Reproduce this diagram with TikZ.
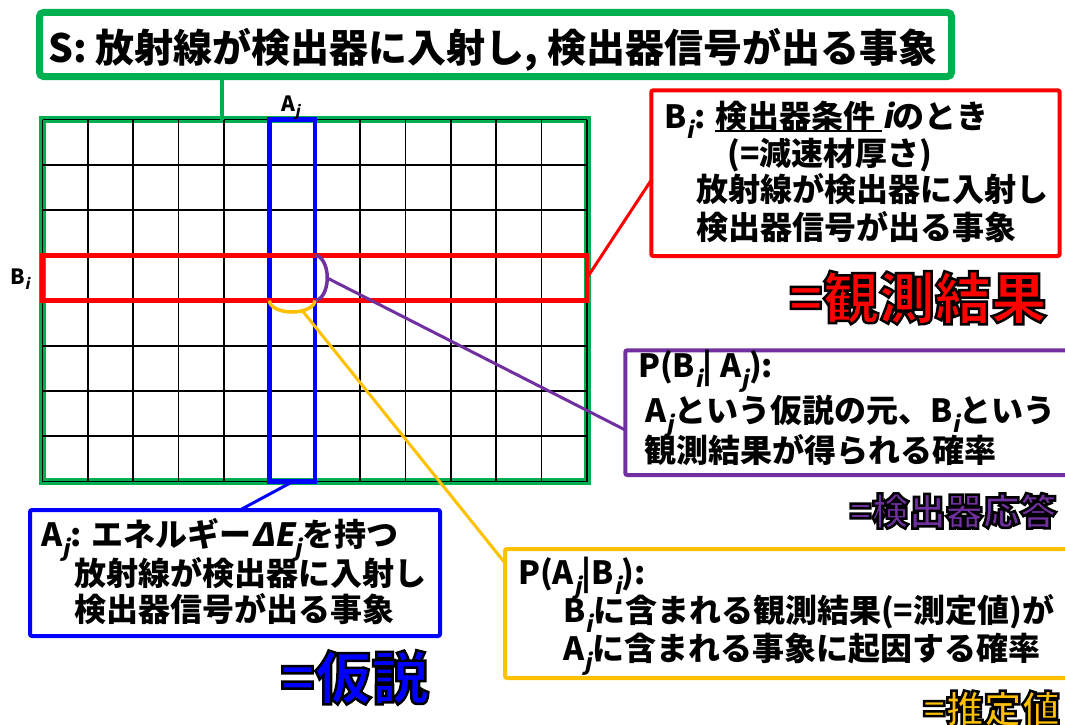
\documentclass[tikz,border=0pt]{standalone}
\usepackage{fontspec}
\setmainfont{Noto Sans CJK JP}
\newfontfamily\jpff{Noto Sans CJK JP}
\newfontfamily\jpit{Noto Sans CJK JP}[FakeSlant=0.2]
\definecolor{ogreen}{HTML}{00B050}
\definecolor{opurple}{HTML}{7030A0}
\definecolor{ogold}{HTML}{FFC000}
\definecolor{oblue}{HTML}{0000FF}
\definecolor{ored}{HTML}{FF0000}
\newcommand\jpt[1]{{\jpff\bfseries #1}}
\newcommand\itx[1]{{\jpit\bfseries #1}}
\newcommand\subi{\textsubscript{\jpit\bfseries i}}
\newcommand\subj{\textsubscript{\jpit\bfseries j}}
\newcommand\ulj[1]{\setbox0=\hbox{#1}\rlap{\rule[-3.5pt]{\wd0}{1.6pt}}\box0}
\newcommand\outl[1]{\special{pdf:literal direct 2 Tr 0 0 0 RG 2.5 w}#1\special{pdf:literal direct 0 Tr}}
\begin{document}
\begin{tikzpicture}[x=1pt,y=-1pt,
  txt/.style={anchor=base west, inner sep=0pt, font=\fontsize{32}{38}\selectfont\jpff\bfseries},
  lbl/.style={anchor=base east, inner sep=0pt},
  frame/.style={draw, inner sep=0pt, outer sep=0pt, anchor=north west, rounded corners=2pt},
  gridline/.style={line width=1.6pt, black},
  conn/.style={line width=3pt}]
\useasboundingbox (0,0) rectangle (1065,725);
\fill[white] (0,0) rectangle (1065,725);

% top S box
\node[frame, draw=ogreen, line width=7pt, rounded corners=4pt, minimum width=912pt, minimum height=64pt] (sbox) at (39.5,12.5) {};
\node[txt, font=\fontsize{39}{44}\selectfont\jpff\bfseries] (stext) at (48,63) {S: \jpt{放射線が検出器に入射し}, \jpt{検出器信号が出る事象}};

% grid frame
\node[frame, draw=ogreen, line width=7pt, rounded corners=0pt, minimum width=544.5pt, minimum height=362pt] (grid) at (42.5,119.5) {};
\foreach \i in {0,...,12} \draw[gridline] (42.5+45.375*\i,119.5) -- (42.5+45.375*\i,481.5);
\foreach \j in {0,...,8} \draw[gridline] (42.5,119.5+45.25*\j) -- (587,119.5+45.25*\j);

\coordinate (sconn) at (222,76.5);
\draw[ogreen, line width=4pt] (sconn) -- (sconn |- grid.north);

% column A_j and row B_i
\node[frame, draw=oblue, line width=4.5pt, rounded corners=0pt, minimum width=45.375pt, minimum height=362pt] (acol) at (269.375,119.5) {};
\node[frame, draw=ored, line width=4.5pt, rounded corners=0pt, minimum width=544.5pt, minimum height=45.25pt] (brow) at (42.5,255.25) {};

\node[txt, font=\fontsize{21}{24}\selectfont\jpff\bfseries] (ajl) at (281,111) {A\subj};
\node[txt, font=\fontsize{21}{24}\selectfont\jpff\bfseries] (bil) at (10,284) {B\subi};

% arcs
\draw[opurple, line width=3.5pt] (314.75,255.25) arc[start angle=-90, end angle=90, x radius=12.5, y radius=22.6];
\draw[ogold, line width=3.5pt] (269.4,300.5) arc[start angle=180, end angle=0, x radius=22.7, y radius=11.5];

% red box
\node[frame, draw=ored, line width=4pt, minimum width=408.4pt, minimum height=165.7pt] (rbox) at (651.3,90.3) {};
\node[txt] (rt1) at (664,128) {B\subi: \ulj{\jpt{検出器条件 }}\itx{i}\jpt{のとき}};
\node[txt] (rt2) at (727,165) {(=\jpt{減速材厚さ})};
\node[txt] (rt3) at (696,201) {\jpt{放射線が検出器に入射し}};
\node[txt] (rt4) at (696,239) {\jpt{検出器信号が出る事象}};
\node[lbl, text=ored, font=\fontsize{56}{60}\selectfont] (lred) at (1047,319) {\outl{\jpt{=観測結果}}};

% purple box
\node[frame, draw=opurple, line width=4pt, minimum width=450pt, minimum height=124.7pt] (pbox) at (625.3,350.3) {};
\node[txt] (pt1) at (638,377) {P(B\subi| A\subj):};
\node[txt] (pt2) at (645,422) {A\subj\jpt{という仮説の元、}B\subi\jpt{という}};
\node[txt] (pt3) at (644,462) {\jpt{観測結果が得られる確率}};
\node[lbl, text=opurple, font=\fontsize{37}{42}\selectfont] (lpur) at (1057,525) {\outl{\jpt{=検出器応答}}};

% blue box
\node[frame, draw=oblue, line width=4pt, minimum width=410pt, minimum height=126pt] (bbox) at (30,510) {};
\node[txt] (bt1) at (41,546) {A\subj: \jpt{エネルギー}\itx{ΔE}\subj\jpt{を持つ}};
\node[txt] (bt2) at (74,585) {\jpt{放射線が検出器に入射し}};
\node[txt] (bt3) at (74,621) {\jpt{検出器信号が出る事象}};
\node[lbl, text=oblue, font=\fontsize{57}{62}\selectfont] (lblue) at (429,699) {\outl{\jpt{=仮説}}};

% orange box
\node[frame, draw=ogold, line width=4pt, minimum width=570pt, minimum height=129pt] (obox) at (505,549) {};
\node[txt] (ot1) at (518,584) {P(A\subj|B\subi):};
\node[txt] (ot2) at (563,622) {B\subi\jpt{に含まれる観測結果}(=\jpt{測定値})\jpt{が}};
\node[txt] (ot3) at (563,660) {A\subj\jpt{に含まれる事象に起因する確率}};
\node[lbl, text=ogold, font=\fontsize{38}{42}\selectfont] (lgold) at (1060,723) {\outl{\jpt{=推定値}}};

% connectors
\coordinate (rin) at (651.3,180);
\draw[ored, conn] (brow.east) -- (rin);
\coordinate (parc) at (327.25,278);
\coordinate (pin) at (625.3,430);
\draw[opurple, conn] (parc) -- (pin);
\coordinate (oarc) at (303,311.5);
\coordinate (oin) at (505,563);
\draw[ogold, conn] (oarc) -- (oin);
\coordinate (bout) at (293,481.5);
\coordinate (bin) at (240,510);
\draw[oblue, conn] (bout) -- (bin);
\end{tikzpicture}
\end{document}
